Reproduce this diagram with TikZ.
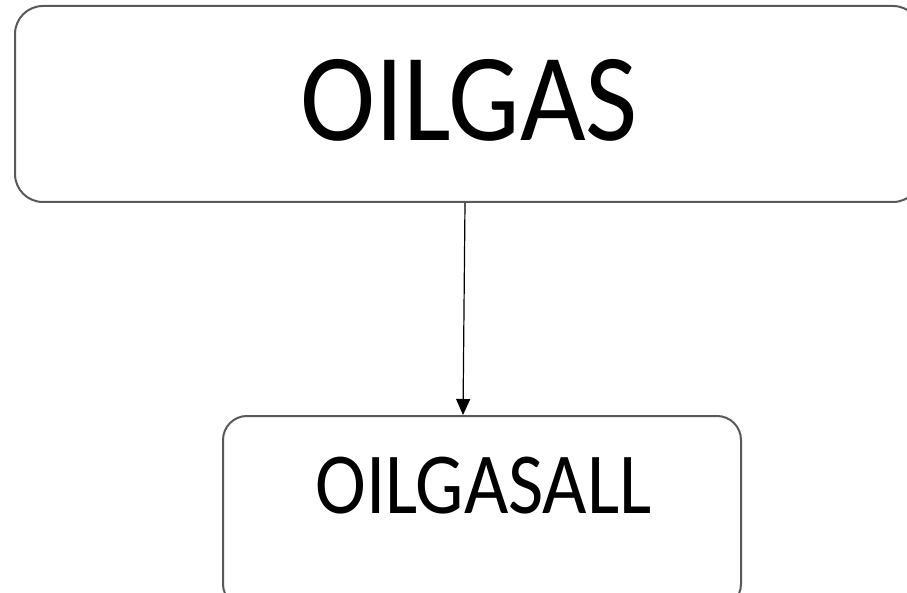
\documentclass[tikz,border=0pt]{standalone}
\usepackage{fontspec}
\setmainfont{Carlito}
\usetikzlibrary{arrows.meta}
\tikzset{
  box/.style={draw=black!65, line width=2pt, rounded corners=#1, inner sep=0pt},
  conn/.style={draw=black, line width=1.2pt, -{Triangle[length=16pt,width=14pt]}}
}
\begin{document}
\begin{tikzpicture}[x=1pt,y=1pt]
\useasboundingbox (0,0) rectangle (907,-593);
\clip (0,0) rectangle (907,-593);
\node[box=28pt, minimum width=906pt, minimum height=196pt] (top) at (468,-104) {};
\node[font=\fontsize{125}{125}\selectfont, anchor=base, xscale=0.907] (toplbl) at (469,-141) {OILGAS};
\node[box=24pt, minimum width=518pt, minimum height=192pt] (bot) at (482,-512) {};
\node[font=\fontsize{87}{87}\selectfont, anchor=base, xscale=0.88] (botlbl) at (483.5,-513) {OILGASALL};
\draw[conn] ([xshift=-3pt]top.south) -- ([xshift=-19pt]bot.north);
\end{tikzpicture}
\end{document}
